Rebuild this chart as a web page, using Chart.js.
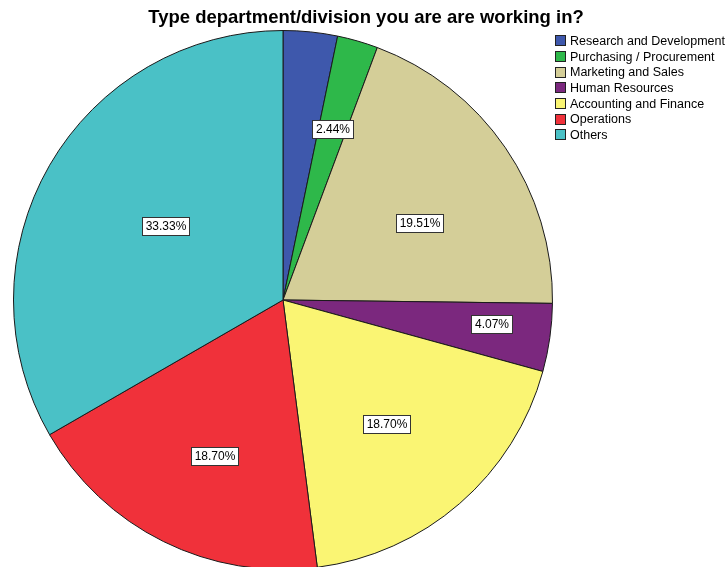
<!DOCTYPE html>
<html>
<head>
<meta charset="utf-8">
<title>Type department/division you are are working in?</title>
<script src="https://cdn.jsdelivr.net/npm/chart.js@4/dist/chart.umd.min.js"></script>
<style>
  html, body { margin: 0; padding: 0; background: #fff; overflow: hidden; }
  #wrap { position: relative; width: 726px; height: 570px; }
  #title {
    position: absolute; left: 0; width: 732px; top: 6px; text-align: center;
    font: bold 18.5px "Liberation Sans", Arial, sans-serif; color: #000; white-space: nowrap;
  }
  #legend {
    position: absolute; left: 555px; top: 33px;
    font: 12.5px "Liberation Sans", Arial, sans-serif; color: #000;
  }
  #legend .item { display: flex; align-items: center; height: 15.7px; white-space: nowrap; }
  #legend .sw { width: 11px; height: 11px; box-sizing: border-box; border: 1px solid #222; margin-right: 4px; flex: none; }
</style>
</head>
<body>
<div id="wrap">
  <canvas id="chart" width="726" height="570"></canvas>
  <div id="title">Type department/division you are are working in?</div>
  <div id="legend"></div>
</div>
<script>
// Departments, in drawing order (clockwise from 12 o'clock)
const departments = [
  "Research and Development",
  "Purchasing / Procurement",
  "Marketing and Sales",
  "Human Resources",
  "Accounting and Finance",
  "Operations",
  "Others"
];

// Share of respondents per department, in percent
const percentages = [3.25, 2.44, 19.51, 4.07, 18.70, 18.70, 33.33];

// Slice fill colours
const sliceColors = ["#3E58AC", "#2EB84A", "#D4CE98", "#7B287E", "#FAF573", "#F0313A", "#4AC1C6"];

// Value label placement: distance from centre (fraction of radius, null = no label)
// and a small angular nudge from the slice's mid-angle, in degrees
const labelRadius = [null, 0.66, 0.58, 0.78, 0.60, 0.633, 0.515];
const labelAngleShift = [0, 0, 5, -1.5, 1, -2.5, 2.4];

const FONT = '"Liberation Sans", Arial, sans-serif';

// Boxed percentage labels drawn on top of the slices
const valueLabels = {
  id: "valueLabels",
  afterDatasetsDraw(chart) {
    const ctx = chart.ctx;
    const meta = chart.getDatasetMeta(0);
    ctx.save();
    ctx.font = "12px " + FONT;
    ctx.textAlign = "center";
    ctx.textBaseline = "middle";
    meta.data.forEach((arc, i) => {
      const f = labelRadius[i];
      if (f == null) return;
      const p = arc.getProps(["x", "y", "startAngle", "endAngle", "outerRadius"], true);
      const mid = (p.startAngle + p.endAngle) / 2 + labelAngleShift[i] * Math.PI / 180;
      const cx = p.x + Math.cos(mid) * p.outerRadius * f;
      const cy = p.y + Math.sin(mid) * p.outerRadius * f;
      const text = chart.data.datasets[0].data[i].toFixed(2) + "%";
      const w = Math.ceil(ctx.measureText(text).width) + 6;
      const h = 18;
      const bx = Math.round(cx - w / 2) + 0.5;
      const by = Math.round(cy - h / 2) + 0.5;
      ctx.fillStyle = "#ffffff";
      ctx.fillRect(bx, by, w, h);
      ctx.strokeStyle = "#333333";
      ctx.lineWidth = 1;
      ctx.strokeRect(bx, by, w, h);
      ctx.fillStyle = "#000000";
      ctx.fillText(text, bx + w / 2, by + h / 2 + 0.5);
    });
    ctx.restore();
  }
};

new Chart(document.getElementById("chart"), {
  type: "pie",
  data: {
    labels: departments,
    datasets: [{
      data: percentages,
      backgroundColor: sliceColors,
      borderColor: "#1a1a1a",
      borderWidth: 1
    }]
  },
  options: {
    responsive: false,
    animation: false,
    layout: { padding: { left: 13, right: 173, top: 30, bottom: 0 } },
    plugins: {
      title: { display: false },
      legend: { display: false },
      tooltip: { enabled: false }
    }
  },
  plugins: [valueLabels]
});

// Legend listing each department with its slice colour
const legend = document.getElementById("legend");
departments.forEach((name, i) => {
  const item = document.createElement("div");
  item.className = "item";
  const sw = document.createElement("span");
  sw.className = "sw";
  sw.style.background = sliceColors[i];
  const label = document.createElement("span");
  label.textContent = name;
  item.appendChild(sw);
  item.appendChild(label);
  legend.appendChild(item);
});
</script>
</body>
</html>
